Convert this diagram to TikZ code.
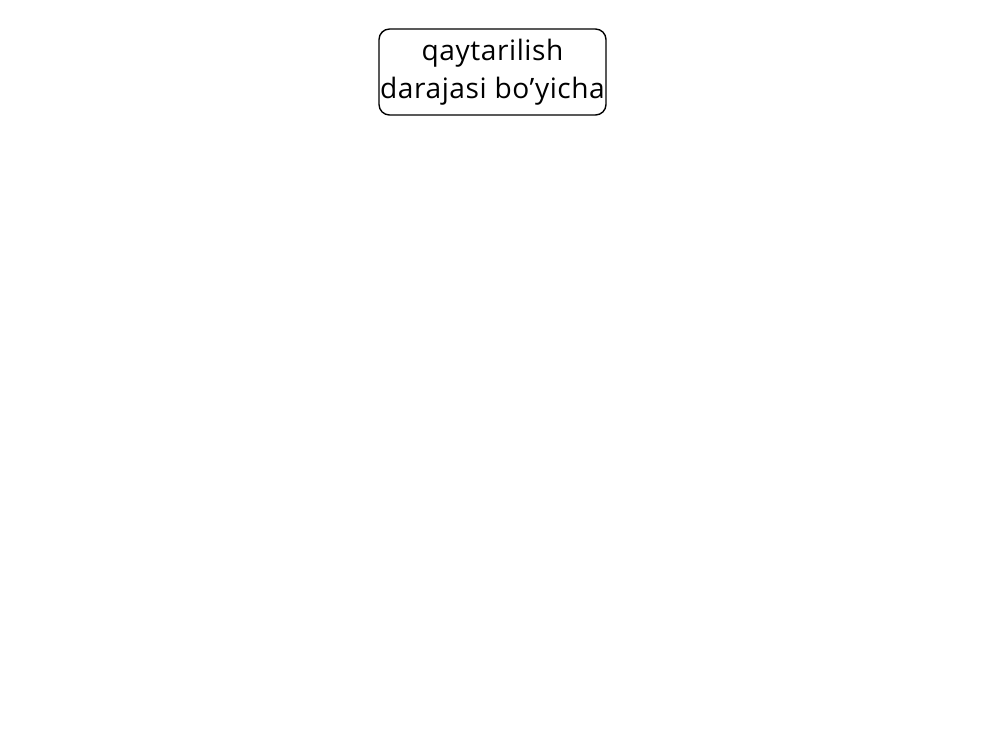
\documentclass[tikz,border=0pt]{standalone}
\usepackage{fontspec}
\setmainfont{Open Sans}[LetterSpace=2]
\usepackage{tikz}

\begin{document}
\begin{tikzpicture}
\tikzstyle{every node}+=[inner sep=0pt]
\tikzstyle{topbox}=[draw=black, rounded corners=3pt, minimum width=2.27cm, minimum height=0.86cm, align=center, font=\fontsize{8}{10.8}\selectfont]
\useasboundingbox (0,0) rectangle (10,-7.5);
\node [topbox] (root) at (4.925,-0.72) {qaytarilish\\darajasi bo’yicha};
\end{tikzpicture}
\end{document}
